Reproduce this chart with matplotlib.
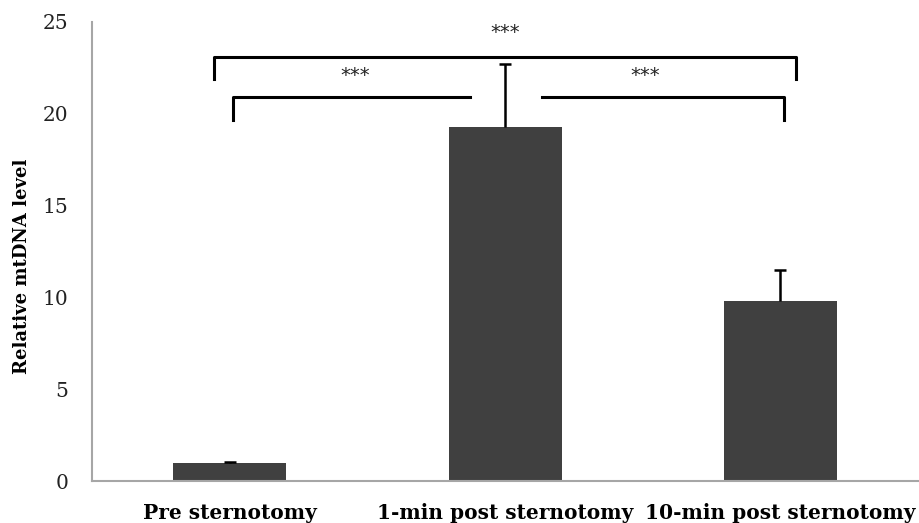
import matplotlib
matplotlib.use("Agg")
import matplotlib.pyplot as plt

categories = ["Pre sternotomy", "1-min post sternotomy", "10-min post sternotomy"]
values = [1.0, 19.3, 9.8]
errors = [0.05, 3.4, 1.7]
yticks = [0, 5, 10, 15, 20, 25]

plt.rcParams['font.family'] = ['DejaVu Serif']

fig = plt.figure(figsize=(9.2, 5.23), dpi=100)
ax = fig.add_axes([0.1, 0.080, 0.898, 0.878])

x = list(range(len(categories)))
ax.bar(x, values, width=0.41, color='#404040', zorder=2)
_, caps, _ = ax.errorbar(x, values, yerr=[[0]*len(errors), errors], fmt='none', ecolor='black',
                         elinewidth=1.8, capsize=4, capthick=1.8, zorder=3)
caps[0].set_visible(False)

ax.set_xlim(-0.5, 2.5)
ax.set_ylim(0, 25)
ax.set_yticks(yticks)
ax.set_yticklabels([str(t) for t in yticks], fontsize=14.5, color='#222222')
ax.set_xticks(x)
ax.set_xticklabels(categories, fontsize=14.5, fontweight='bold')
ax.tick_params(axis='both', length=0)
ax.tick_params(axis='y', pad=17)
ax.tick_params(axis='x', pad=16)
ax.set_ylabel("Relative mtDNA level", fontsize=13, fontweight='bold')
ax.yaxis.set_label_coords(-0.074, 0.468)

for s in ['top', 'right']:
    ax.spines[s].set_visible(False)
for s in ['left', 'bottom']:
    ax.spines[s].set_color('#a6a6a6')
    ax.spines[s].set_linewidth(1.5)

# significance brackets
ax.plot([-0.058, -0.058, 2.058, 2.058], [21.9, 23.1, 23.1, 21.9], color='black', lw=2.2, zorder=4)
ax.plot([0.011, 0.011, 0.873], [19.66, 20.9, 20.9], color='black', lw=2.2, zorder=4)
ax.plot([1.134, 2.014, 2.014], [20.9, 20.9, 19.66], color='black', lw=2.2, zorder=4)

star_kw = dict(ha='center', va='center', fontsize=14, family='DejaVu Sans', color='#222222')
ax.text(1.0, 24.4, "***", **star_kw)
ax.text(0.457, 22.06, "***", **star_kw)
ax.text(1.507, 22.06, "***", **star_kw)

fig.savefig("out.png", dpi=100)
